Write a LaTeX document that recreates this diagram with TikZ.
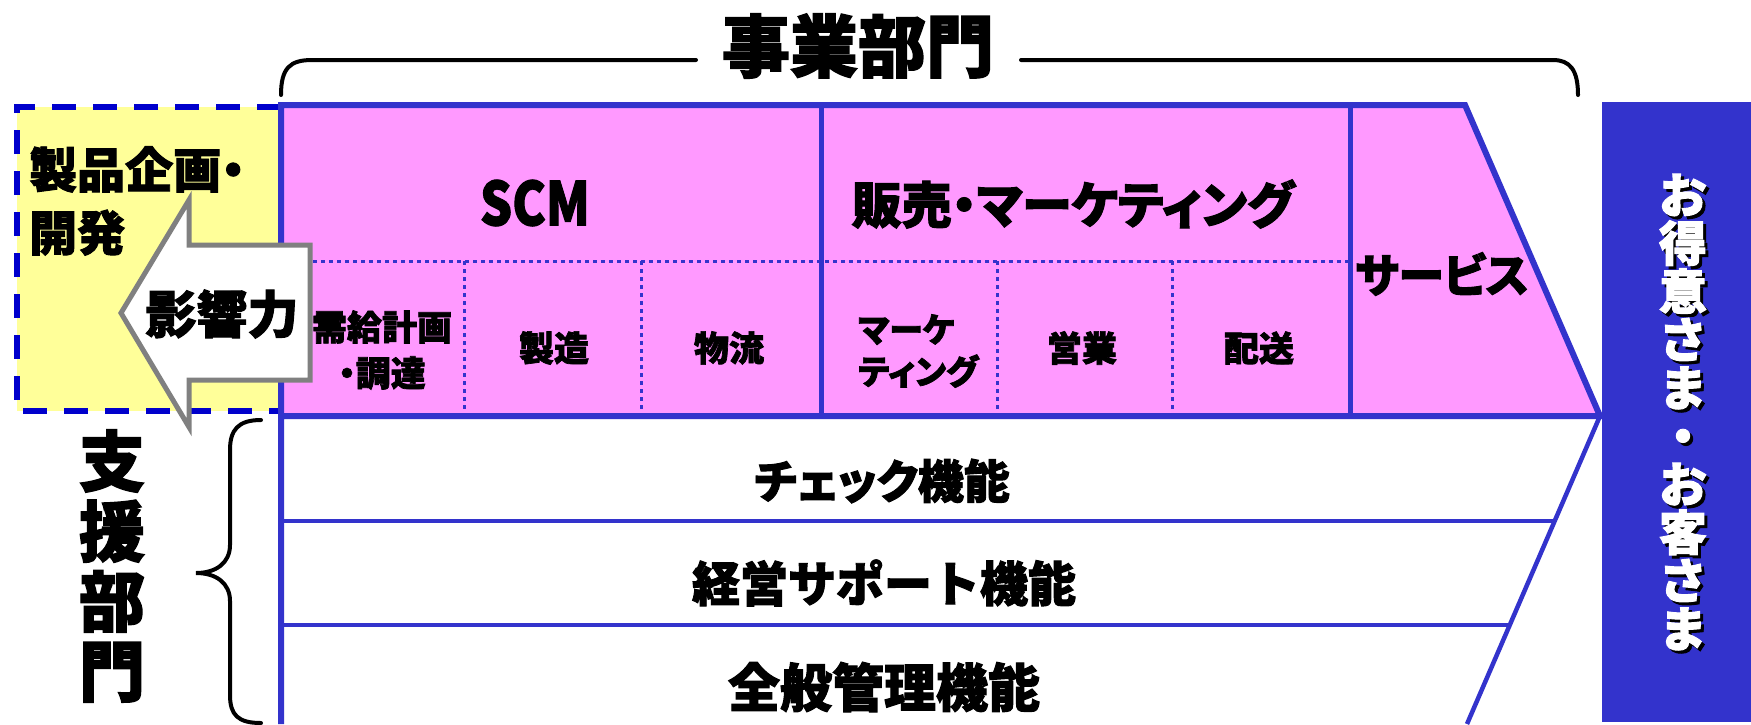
\documentclass[tikz,border=0pt]{standalone}
\usepackage{fontspec}
\newfontfamily\jp{Noto Sans CJK JP}[BoldFeatures={FakeBold=2}]
\newfontfamily\jpp{Noto Sans CJK JP}[RawFeature=+palt, BoldFeatures={FakeBold=2}]
\newcommand\fsz[2]{\fontsize{#1}{#2}\selectfont}
\definecolor{pinkf}{HTML}{FF99FF}
\definecolor{lineblue}{HTML}{3333CC}
\definecolor{dashblue}{HTML}{0000CC}
\definecolor{yell}{HTML}{FFFF99}
\definecolor{arrgray}{HTML}{808080}
\begin{document}
\begin{tikzpicture}[x=1pt,y=-1pt,
  lbl/.style={inner sep=0pt, text=black, align=center},
  frame/.style={draw=lineblue, line width=6pt},
  thinln/.style={draw=lineblue, line width=4.5pt},
  divln/.style={draw=lineblue, line width=5pt},
  dotln/.style={draw=lineblue, line width=3pt, dash pattern=on 4pt off 4pt},
  bracel/.style={draw=black, line width=4pt, line cap=round},
]
\useasboundingbox (0,0) rectangle (1751,724);
\fill[white] (0,0) rectangle (1751,724);

% product planning box
\fill[yell] (17,107) rectangle (281,411);
\draw[dashblue, line width=5.5pt, dash pattern=on 24pt off 17pt] (281,107) -- (17,107) -- (17,411) -- (281,411);

% business area
\fill[pinkf] (281,105) -- (1465,105) -- (1600,416) -- (281,416) -- cycle;
\draw[dotln] (281,261) -- (1350,261);
\foreach \xx in {464,641,997,1172} \draw[dotln] (\xx,261) -- (\xx,416);
\draw[divln] (821,105) -- (821,416);
\draw[divln] (1350,105) -- (1350,416);
\draw[frame, line join=miter] (281,724) -- (281,105) -- (1465,105) -- (1600,416) -- (281,416);

% support area
\draw[thinln] (1600,416) -- (1467,724);
\draw[thinln] (281,521) -- (1554.7,521);
\draw[thinln] (281,625) -- (1509.8,625);

% customer box
\fill[lineblue] (1602,102) rectangle (1751,722);

% influence arrow
\draw[arrgray, line width=5pt, fill=white, line join=miter]
  (310,245) -- (189,245) -- (189,200) -- (121,313) -- (189,427) -- (189,380) -- (310,380) -- cycle;

% brackets
\draw[bracel] (281,95) .. controls (281,68) and (290,60) .. (312,60) -- (696,60);
\draw[bracel] (1021,60) -- (1553,60) .. controls (1570,60) and (1578,70) .. (1578,95);
\draw[bracel] (261,420) .. controls (238,420) and (230,430) .. (230,450) -- (230,545)
  .. controls (230,563) and (216,573) .. (196,573)
  .. controls (216,573) and (230,583) .. (230,601) -- (230,695)
  .. controls (230,715) and (238,723) .. (261,723);

% labels
\node[lbl, font=\jp\bfseries\fsz{68}{68}] (jigyo) at (858,46) {事業部門};
\node[lbl, font=\jp\bfseries\fsz{60}{60}] (scm) at (535,203) {\scalebox{0.84}[1]{SCM}};
\node[lbl, font=\jpp\bfseries\fsz{50}{50}] (hanbai) at (1073,204) {販売・マーケティング};
\node[lbl, font=\jpp\bfseries\fsz{46}{46}] (service) at (1442,274) {サービス};
\node[lbl, font=\jpp\bfseries\fsz{35}{46}] (jukyu) at (382,350) {需給計画\\・調達};
\node[lbl, font=\jp\bfseries\fsz{35}{35}] (seizo) at (554,348) {製造};
\node[lbl, font=\jp\bfseries\fsz{35}{35}] (butsuryu) at (729,348) {物流};
\node[lbl, font=\jpp\bfseries\fsz{34}{42}, align=left, anchor=west] (mkt) at (858,351) {マーケ\\ティング};
\node[lbl, font=\jp\bfseries\fsz{35}{35}] (eigyo) at (1082,348) {営業};
\node[lbl, font=\jp\bfseries\fsz{35}{35}] (haiso) at (1259,348) {配送};
\node[lbl, font=\jpp\bfseries\fsz{48}{63}, align=left, anchor=west] (kikaku) at (29,201) {製品企画・\\開発};
\node[lbl, font=\jp\bfseries\fsz{51}{51}] (eikyo) at (222,314) {影響力};
\node[lbl, font=\jpp\bfseries\fsz{46}{46}] (check) at (882,481) {チェック機能};
\node[lbl, font=\jp\bfseries\fsz{48}{48}] (keiei) at (884,583) {経営サポート機能};
\node[lbl, font=\jp\bfseries\fsz{52}{52}] (zenpan) at (884,687) {全般管理機能};
\node[lbl, font=\jp\bfseries\fsz{66}{70}] (shien) at (112,566) {支\\援\\部\\門};
\node[lbl, font=\jp\bfseries\fsz{48}{48.2}, text=black] (okyakushadow) at (1686,415) {お\\得\\意\\さ\\ま\\・\\お\\客\\さ\\ま};
\node[lbl, font=\jp\bfseries\fsz{48}{48.2}, text=white] (okyaku) at (1683,412) {お\\得\\意\\さ\\ま\\・\\お\\客\\さ\\ま};
\end{tikzpicture}
\end{document}
